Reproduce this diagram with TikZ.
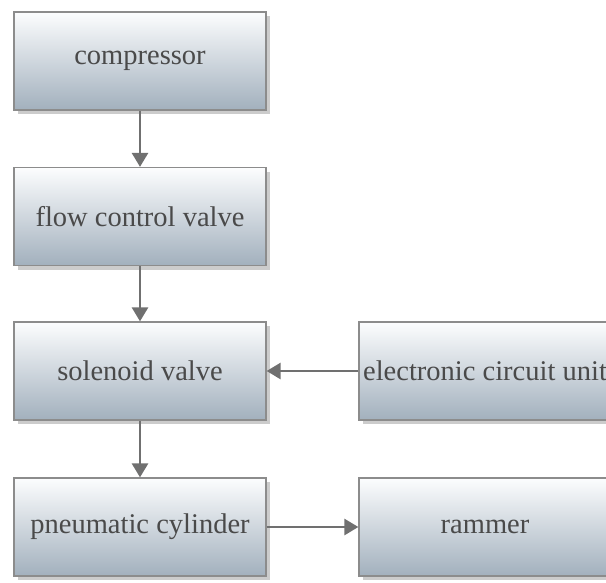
\documentclass[tikz,border=0pt]{standalone}
\usepackage{fontspec}
\setmainfont{Liberation Serif}
\usetikzlibrary{arrows.meta,positioning,shadows}
\definecolor{boxtop}{HTML}{FCFDFE}
\definecolor{boxbot}{HTML}{A2B0BD}
\definecolor{boxline}{HTML}{8C8C8C}
\definecolor{txtgray}{HTML}{4A4A4A}
\definecolor{arrgray}{HTML}{707070}
\tikzset{
  blk/.style={draw=boxline,line width=1.2pt,top color=boxtop,bottom color=boxbot,
    minimum width=252pt,minimum height=98pt,inner sep=0pt,
    font=\rmfamily\fontsize{28.5}{32}\selectfont,text=txtgray,
    drop shadow={shadow xshift=4pt,shadow yshift=-4pt,opacity=0.4,fill=black!50}},
  flow/.style={color=arrgray,line width=2.6pt,-{Triangle[length=14pt,width=16pt]}}
}
\begin{document}
\begin{tikzpicture}[x=1pt,y=-1pt]
\useasboundingbox (0,0) rectangle (606,582);
\node[blk] (comp) at (140,61) {compressor};
\node[blk] (fcv) at (140,216.5) {flow control valve};
\node[blk] (sol) at (140,371) {solenoid valve};
\node[blk] (cyl) at (140,527) {pneumatic cylinder};
\node[blk] (ecu) at (485,371) {electronic circuit unit};
\node[blk] (ram) at (485,527) {rammer};
\draw[flow] (comp) -- (fcv);
\draw[flow] (fcv) -- (sol);
\draw[flow] (ecu) -- (sol);
\draw[flow] (sol) -- (cyl);
\draw[flow] (cyl) -- (ram);
\end{tikzpicture}
\end{document}
